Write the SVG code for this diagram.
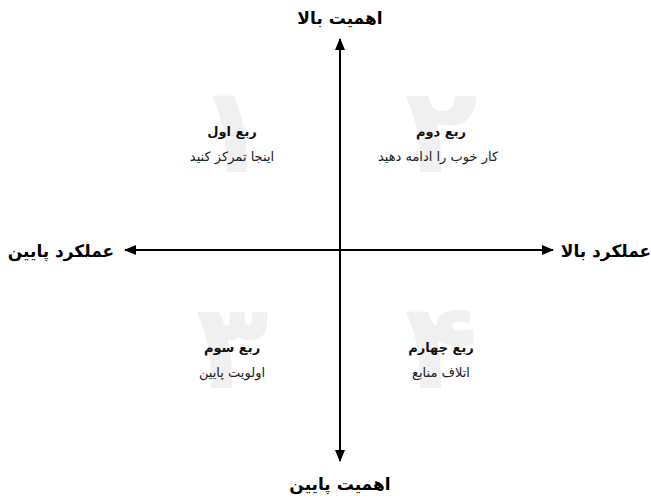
<svg xmlns="http://www.w3.org/2000/svg" width="651" height="499" viewBox="0 0 651 499">
<style>
text{font-family:"DejaVu Sans",sans-serif;text-anchor:middle;direction:rtl}
.ax{font-size:17px;font-weight:bold;fill:#000}
.t{font-size:13px;font-weight:bold;fill:#111}
.s{font-size:13px;fill:#222}
.d{font-size:120px;font-weight:bold;fill:#f0f0f0}
.ln{stroke:#000;stroke-width:2;fill:none}
</style>
<defs>
<marker id="ah" viewBox="0 0 12 10" refX="11" refY="5" markerWidth="12" markerHeight="10" markerUnits="userSpaceOnUse" orient="auto-start-reverse">
<path d="M0,0 L12,5 L0,10 Z" fill="#000"/>
</marker>
</defs>
<rect width="651" height="499" fill="#fff"/>
<g id="connectors">
<line class="ln" x1="340" y1="39" x2="340" y2="461" marker-start="url(#ah)" marker-end="url(#ah)"/>
<line class="ln" x1="125" y1="250" x2="553" y2="250" marker-start="url(#ah)" marker-end="url(#ah)"/>
</g>
<g id="axis-top"><text class="ax" x="340" y="24">اهمیت بالا</text></g>
<g id="axis-bottom"><text class="ax" x="340" y="490">اهمیت پایین</text></g>
<g id="axis-left"><text class="ax" x="61" y="257">عملکرد پایین</text></g>
<g id="axis-right"><text class="ax" x="606" y="257">عملکرد بالا</text></g>
<g id="q1">
<text class="d" x="232" y="172">۱</text>
<text class="t" x="232" y="136">ربع اول</text>
<text class="s" x="232" y="161">اینجا تمرکز کنید</text>
</g>
<g id="q2">
<text class="d" x="441" y="172">۲</text>
<text class="t" x="441" y="136">ربع دوم</text>
<text class="s" x="438" y="161">کار خوب را ادامه دهید</text>
</g>
<g id="q3">
<text class="d" x="232" y="388">۳</text>
<text class="t" x="232" y="352">ربع سوم</text>
<text class="s" x="232" y="377">اولویت پایین</text>
</g>
<g id="q4">
<text class="d" x="441" y="388">۴</text>
<text class="t" x="441" y="352">ربع چهارم</text>
<text class="s" x="441" y="377">اتلاف منابع</text>
</g>
</svg>
